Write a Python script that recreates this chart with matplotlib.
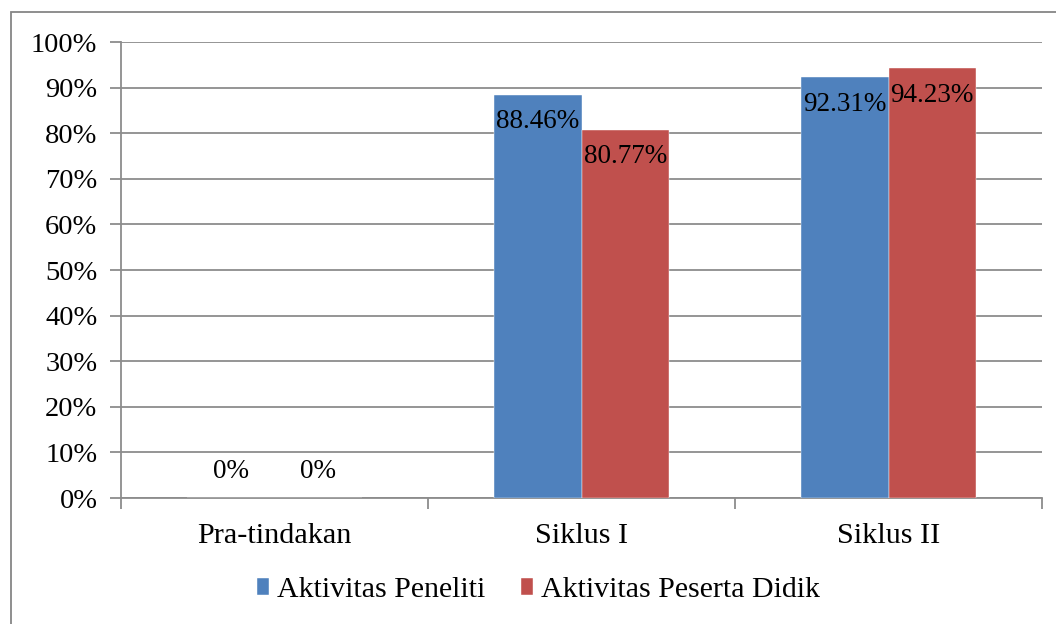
import matplotlib.pyplot as plt
from matplotlib.patches import Rectangle

plt.rcParams['font.family'] = ['Liberation Serif', 'DejaVu Serif']

kategori = ["Pra-tindakan", "Siklus I", "Siklus II"]
peneliti = [0.0, 88.46, 92.31]
peserta = [0.0, 80.77, 94.23]
nama_seri = ["Aktivitas Peneliti", "Aktivitas Peserta Didik"]
warna = ["#4F81BD", "#C0504D"]
y_ticks = list(range(0, 101, 10))

W, H = 1056, 624
fig = plt.figure(figsize=(W / 100, H / 100), dpi=100)
ax = fig.add_axes([121 / W, 1 - 498 / H, 921 / W, 456 / H])

# bingkai luar grafik
fig.patches.append(Rectangle((11 / W, -0.05), 1.1, 1 - 12 / H + 0.05,
                             transform=fig.transFigure, fill=False,
                             edgecolor="#868686", linewidth=1.3, clip_on=False))

grid_col = "#8C8C8C"
lebar = 0.285
pos = [i + 0.5 for i in range(len(kategori))]

for k, (seri, nilai) in enumerate([(nama_seri[0], peneliti), (nama_seri[1], peserta)]):
    xs = [p + (k - 0.5) * lebar for p in pos]
    ax.bar(xs, nilai, width=lebar, color=warna[k], label=seri, zorder=3,
           edgecolor="white", linewidth=0.3)
    for x, v in zip(xs, nilai):
        dy = -27 if v > 0 else 26
        ax.annotate(f"{v:.2f}%" if v > 0 else "0%", (x, v),
                    xytext=(0, dy), textcoords="offset pixels",
                    ha="center", va="center", fontsize=19.5, color="black", zorder=4)

ax.set_xlim(0, 3)
ax.set_ylim(0, 100)
ax.set_yticks(y_ticks)
ax.set_yticklabels([f"{t}%" for t in y_ticks], fontsize=20.5)
ax.yaxis.grid(True, color=grid_col, linewidth=1.3, zorder=0)
ax.set_xticks([0, 1, 2, 3])
ax.set_xticklabels([])
ax.set_xticks(pos, minor=True)
ax.set_xticklabels(kategori, minor=True, fontsize=21.7)
ax.tick_params(axis="x", which="minor", length=0, pad=18)
ax.tick_params(axis="x", which="major", length=8, color=grid_col, width=1.3)
ax.tick_params(axis="y", length=8, color=grid_col, width=1.3, pad=9)
for s in ["top", "right"]:
    ax.spines[s].set_visible(False)
for s in ["left", "bottom"]:
    ax.spines[s].set_color(grid_col)
    ax.spines[s].set_linewidth(1.3)

fig.legend(loc="center", bbox_to_anchor=(538 / W, 1 - 590 / H), ncol=2,
           frameon=False, fontsize=21.5, handlelength=0.42, handleheight=0.5,
           handletextpad=0.25, columnspacing=1.2)

fig.savefig("out.png", dpi=100)
